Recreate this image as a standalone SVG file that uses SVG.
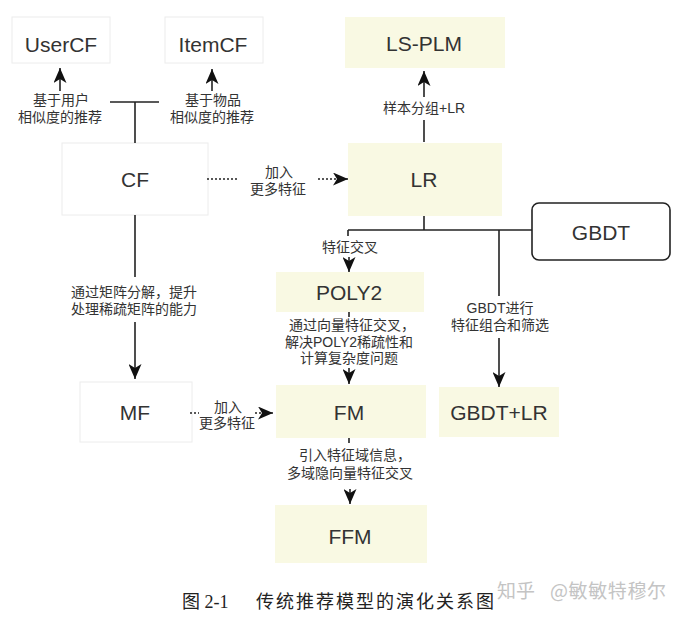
<svg xmlns="http://www.w3.org/2000/svg" width="684" height="623" viewBox="0 0 684 623">
<style>
.wb{fill:#ffffff;stroke:#ececec;stroke-width:1}
.yb{fill:#f9f9e3;stroke:none}
.t{font-family:"Liberation Sans","Noto Sans CJK SC",sans-serif;font-size:21px;fill:#333;text-anchor:middle}
.l{font-family:"Liberation Sans","Noto Sans CJK SC",sans-serif;font-size:14px;fill:#333;text-anchor:middle}
.ln{stroke:#222;stroke-width:1.6;fill:none}
.dt{stroke:#222;stroke-width:1.6;fill:none;stroke-dasharray:2,2}
.cap{font-family:"Liberation Serif","Noto Sans CJK SC",serif;font-size:18px;fill:#222}
.wm{font-family:"Noto Sans CJK SC",sans-serif;font-size:19px;fill:#c4c4c4}
</style>
<defs>
<marker id="ah" markerUnits="userSpaceOnUse" markerWidth="15" markerHeight="13" refX="15" refY="6.5" orient="auto">
<path d="M0,0 L15,6.5 L0,13 L4,6.5 z" fill="#111"/>
</marker>
</defs>
<rect width="684" height="623" fill="#ffffff"/>

<g id="UserCF"><rect class="wb" x="12" y="17" width="98" height="46"/><text class="t" x="61" y="52">UserCF</text></g>
<g id="ItemCF"><rect class="wb" x="165" y="17" width="98" height="46"/><text class="t" x="213" y="52">ItemCF</text></g>
<g id="CF"><rect class="wb" x="62" y="143" width="146" height="72"/><text class="t" x="135" y="187">CF</text></g>
<g id="MF"><rect class="wb" x="80" y="382" width="112" height="60"/><text class="t" x="135" y="420">MF</text></g>
<g id="LS-PLM"><rect class="yb" x="345" y="17" width="160" height="51"/><text class="t" x="424" y="51">LS-PLM</text></g>
<g id="LR"><rect class="yb" x="348" y="143" width="154" height="73"/><text class="t" x="424" y="187">LR</text></g>
<g id="GBDT"><rect x="532" y="203" width="138" height="57" rx="7" fill="#ffffff" stroke="#222" stroke-width="1.6"/><text class="t" x="601" y="240">GBDT</text></g>
<g id="POLY2"><rect class="yb" x="276" y="272" width="148" height="40"/><text class="t" x="349" y="300">POLY2</text></g>
<g id="FM"><rect class="yb" x="276" y="385" width="150" height="53"/><text class="t" x="349" y="420">FM</text></g>
<g id="GBDT+LR"><rect class="yb" x="439" y="387" width="120" height="50"/><text class="t" x="499" y="420">GBDT+LR</text></g>
<g id="FFM"><rect class="yb" x="275" y="505" width="152" height="58"/><text class="t" x="350" y="544">FFM</text></g>

<g id="connectors">
<line class="ln" x1="60" y1="91" x2="60" y2="68" marker-end="url(#ah)"/>
<line class="ln" x1="212" y1="91" x2="212" y2="69" marker-end="url(#ah)"/>
<line class="ln" x1="110" y1="102" x2="159" y2="102"/>
<line class="ln" x1="135" y1="102" x2="135" y2="143"/>
<line class="dt" x1="207" y1="179" x2="238" y2="179"/>
<line class="dt" x1="318" y1="179" x2="348" y2="179" marker-end="url(#ah)"/>
<line class="ln" x1="424" y1="142" x2="424" y2="120"/>
<line class="ln" x1="424" y1="97" x2="424" y2="71" marker-end="url(#ah)"/>
<line class="ln" x1="424" y1="216" x2="424" y2="230"/>
<line class="ln" x1="348" y1="230" x2="532" y2="230"/>
<line class="ln" x1="348" y1="230" x2="348" y2="236"/>
<line class="ln" x1="349" y1="257" x2="349" y2="272" marker-end="url(#ah)"/>
<line class="ln" x1="499" y1="230" x2="499" y2="296"/>
<line class="ln" x1="499" y1="338" x2="499" y2="387" marker-end="url(#ah)"/>
<line class="ln" x1="349" y1="312" x2="349" y2="317"/>
<line class="ln" x1="349" y1="368" x2="349" y2="384" marker-end="url(#ah)"/>
<line class="ln" x1="135" y1="215" x2="135" y2="277"/>
<line class="ln" x1="135" y1="322" x2="135" y2="379" marker-end="url(#ah)"/>
<line class="dt" x1="190" y1="413" x2="199" y2="413"/>
<line class="dt" x1="255" y1="413" x2="273" y2="413" marker-end="url(#ah)"/>
<line class="ln" x1="349" y1="438" x2="349" y2="443"/>
<line class="ln" x1="350" y1="489" x2="350" y2="504" marker-end="url(#ah)"/>
</g>

<g id="labels">
<text class="l" x="61" y="105">基于用户</text>
<text class="l" x="60" y="122">相似度的推荐</text>
<text class="l" x="213" y="105">基于物品</text>
<text class="l" x="212" y="122">相似度的推荐</text>
<text class="l" x="279" y="177">加入</text>
<text class="l" x="278" y="194">更多特征</text>
<text class="l" x="424" y="113">样本分组+LR</text>
<text class="l" x="350" y="252">特征交叉</text>
<text class="l" x="500" y="313">GBDT进行</text>
<text class="l" x="500" y="330">特征组合和筛选</text>
<text class="l" x="352" y="330">通过向量特征交叉，</text>
<text class="l" x="349" y="347">解决POLY2稀疏性和</text>
<text class="l" x="349" y="363">计算复杂度问题</text>
<text class="l" x="134" y="297">通过矩阵分解，提升</text>
<text class="l" x="134" y="314">处理稀疏矩阵的能力</text>
<text class="l" x="228" y="412">加入</text>
<text class="l" x="227" y="428">更多特征</text>
<text class="l" x="355" y="460">引入特征域信息，</text>
<text class="l" x="350" y="478">多域隐向量特征交叉</text>
</g>

<text class="cap" x="182" y="608" font-size="19">图 2-1</text>
<text class="cap" x="256" y="608" letter-spacing="2">传统推荐模型的演化关系图</text>
<text class="wm" x="497" y="598">知乎</text>
<text class="wm" x="550" y="598" textLength="116">@敏敏特穆尔</text>
</svg>
